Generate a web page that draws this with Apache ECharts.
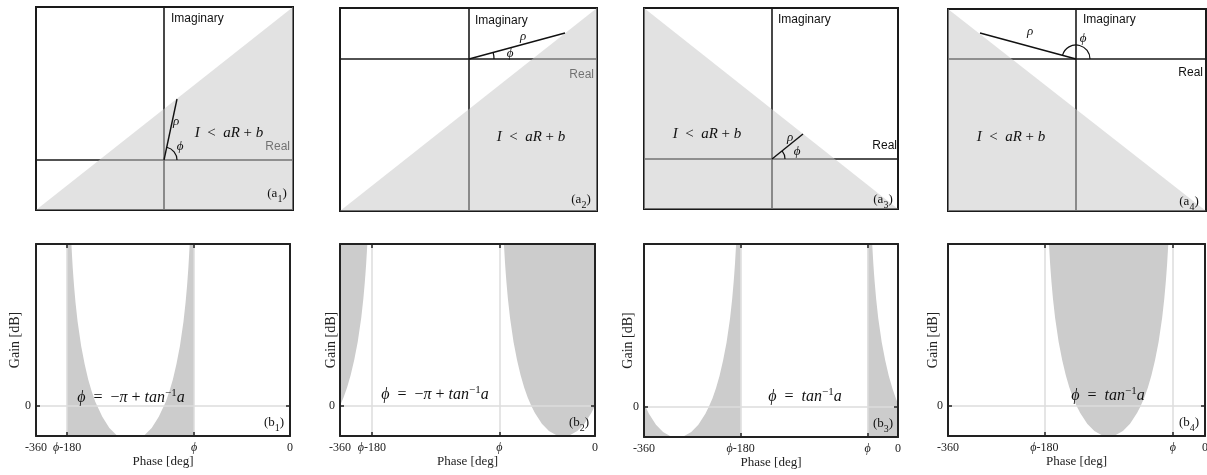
<!DOCTYPE html>
<html>
<head>
<meta charset="utf-8">
<script src="https://cdn.jsdelivr.net/npm/echarts@6/dist/echarts.min.js"></script>
<style>
html, body { margin: 0; padding: 0; background: #fff; }
#main { width: 1207px; height: 475px; }
</style>
</head>
<body>
<div id="main"></div>
<script>
// ---------- top row: complex plane, half plane I < aR + b ----------
var planeReal = [[-128, 129], [-129, 128], [-128, 126], [-128, 130]];
var planeImag = [[-50, 153], [-152, 51], [-50, 151], [-152, 50]];
// boundary line I = aR + b, end points on the frame
var edgeA1 = [[-128, -50], [129, 153]];
var edgeA2 = [[-129, -152], [128, 51]];
var edgeA3 = [[-128, 151], [126, -50]];
var edgeA4 = [[-128, 50], [130, -152]];
// rho vector and phi arc [cx, cy, r, fromDeg, toDeg]
var rhoA1 = [[0, 0], [13, 61]];
var rhoA2 = [[0, 0], [96, 26]];
var rhoA3 = [[0, 0], [31, 25]];
var rhoA4 = [[0, 0], [-96, 26]];
var arcA1 = [[0, 0, 13, 0, 78]];
var arcA2 = [[0, 0, 25, 0, 15]];
var arcA3 = [[0, 0, 13, 0, 39]];
var arcA4 = [[0, 0, 14, 0, 165]];

// ---------- bottom row: gain / phase ----------
var gainRange = [-3, 16];
var gainTicks = [0];
var phaseTickText = ['-360', '{i|ϕ}-180', '{i|ϕ}', '0'];
var phaseTicksB1 = [-360, -316, -136, 0];
var phaseTicksB2 = [-360, -315, -135, 0];
var phaseTicksB3 = [-360, -223, -43, 0];
var phaseTicksB4 = [-360, -225, -45, 0];

// b1: shaded below the boundary inside the band
var bandB1 = [[-316, 16], [-309.8, 16], [-309, 14.9], [-308, 13.7], [-307, 12.7], [-306, 11.8], [-304, 10.2],
  [-301, 8.3], [-296, 5.9], [-291, 4.1], [-286, 2.6], [-281, 1.4], [-276, 0.4], [-266, -1.1], [-256, -2.2],
  [-246, -2.9], [-236, -3.3], [-226, -3.4], [-216, -3.3], [-206, -2.9], [-196, -2.2], [-186, -1.1], [-176, 0.4],
  [-171, 1.4], [-166, 2.6], [-161, 4.1], [-156, 5.9], [-151, 8.3], [-148, 10.2], [-146, 11.8], [-145, 12.7],
  [-144, 13.7], [-143, 14.9], [-142.2, 16], [-136, 16]];
// b2: shaded above the boundary, outside the band
var leftB2 = [[-360, 0.0], [-355, 0.8], [-350, 1.8], [-345, 3.0], [-340, 4.5], [-335, 6.3], [-330, 8.7],
  [-327, 10.6], [-325, 12.2], [-324, 13.1], [-323, 14.1], [-322, 15.3], [-321.4, 16], [-315, 16]];
var rightB2 = [[-135, 16], [-128.6, 16], [-128, 15.3], [-127, 14.1], [-126, 13.1], [-125, 12.2], [-123, 10.6],
  [-120, 8.7], [-115, 6.3], [-110, 4.5], [-105, 3.0], [-100, 1.8], [-95, 0.8], [-90, 0.0], [-85, -0.7],
  [-75, -1.8], [-65, -2.5], [-55, -2.9], [-45, -3.0], [-35, -2.9], [-25, -2.5], [-15, -1.8], [-5, -0.7], [0, 0.0]];
// b3: shaded below the boundary, outside the band
var leftB3 = [[-360, 0.3], [-358, 0.0], [-353, -0.7], [-343, -1.8], [-333, -2.5], [-323, -2.9], [-313, -3.0],
  [-303, -2.9], [-293, -2.5], [-283, -1.8], [-273, -0.7], [-268, 0.0], [-263, 0.8], [-258, 1.8], [-253, 3.0],
  [-248, 4.5], [-243, 6.3], [-238, 8.7], [-235, 10.6], [-233, 12.2], [-232, 13.1], [-231, 14.1], [-230, 15.3],
  [-229.4, 16], [-223, 16]];
var rightB3 = [[-43, 16], [-36.6, 16], [-36, 15.3], [-35, 14.1], [-34, 13.1], [-33, 12.2], [-31, 10.6],
  [-28, 8.7], [-23, 6.3], [-18, 4.5], [-13, 3.0], [-8, 1.8], [-3, 0.8], [0, 0.3]];
// b4: shaded above the boundary inside the band
var bandB4 = [[-225, 16], [-218.6, 16], [-218, 15.3], [-217, 14.1], [-216, 13.1], [-215, 12.2], [-213, 10.6],
  [-210, 8.7], [-205, 6.3], [-200, 4.5], [-195, 3.0], [-190, 1.8], [-185, 0.8], [-180, 0.0], [-175, -0.7],
  [-165, -1.8], [-155, -2.5], [-145, -2.9], [-135, -3.0], [-125, -2.9], [-115, -2.5], [-105, -1.8], [-95, -0.7],
  [-90, 0.0], [-85, 0.8], [-80, 1.8], [-75, 3.0], [-70, 4.5], [-65, 6.3], [-60, 8.7], [-57, 10.6], [-55, 12.2],
  [-54, 13.1], [-53, 14.1], [-52, 15.3], [-51.4, 16], [-45, 16]];

var serif = "'Liberation Serif', 'Times New Roman', serif";
var sans = "'Liberation Sans', Arial, sans-serif";

var topPanels = [
  {box: [36, 7, 257, 203], edge: edgeA1, rho: rhoA1, arc: arcA1},
  {box: [340, 8, 257, 203], edge: edgeA2, rho: rhoA2, arc: arcA2},
  {box: [644, 8, 254, 201], edge: edgeA3, rho: rhoA3, arc: arcA3},
  {box: [948, 9, 258, 202], edge: edgeA4, rho: rhoA4, arc: arcA4}
];
var bottomPanels = [
  {box: [36, 244, 254, 192], ticks: phaseTicksB1, gap: 14, areas: [[bandB1, 'start']]},
  {box: [340, 244, 255, 192], ticks: phaseTicksB2, gap: 2, areas: [[leftB2, 'end'], [rightB2, 'end']]},
  {box: [644, 244, 254, 193], ticks: phaseTicksB3, gap: 9, areas: [[leftB3, 'start'], [rightB3, 'start']]},
  {box: [948, 244, 257, 192], ticks: phaseTicksB4, gap: 8, areas: [[bandB4, 'end']]}
];

var grids = [], xAxes = [], yAxes = [], series = [];

topPanels.forEach(function (p, i) {
  grids.push({left: p.box[0], top: p.box[1], width: p.box[2], height: p.box[3], show: true,
    borderColor: '#1a1a1a', borderWidth: 2, outerBoundsMode: 'none'});
  var plain = {
    gridIndex: i, type: 'value',
    axisLine: {onZero: true, lineStyle: {color: '#1a1a1a', width: 1.6}},
    axisTick: {show: false}, axisLabel: {show: false}, splitLine: {show: false}
  };
  xAxes.push(Object.assign({}, plain, {min: planeReal[i][0], max: planeReal[i][1]}));
  yAxes.push(Object.assign({}, plain, {min: planeImag[i][0], max: planeImag[i][1]}));
  series.push({
    type: 'line', xAxisIndex: i, yAxisIndex: i, data: p.edge, symbol: 'none', silent: true, z: 2,
    lineStyle: {width: 0}, areaStyle: {color: 'rgba(200,200,200,0.52)', opacity: 1, origin: 'start'}
  });
  series.push({
    type: 'line', xAxisIndex: i, yAxisIndex: i, data: p.rho, symbol: 'none', silent: true, z: 4,
    lineStyle: {color: '#111', width: 1.4}
  });
  series.push({
    type: 'custom', xAxisIndex: i, yAxisIndex: i, data: p.arc, silent: true, z: 4, clip: false,
    renderItem: function (params, api) {
      var c = api.coord([api.value(0), api.value(1)]);
      var r = api.size([api.value(2), 0])[0];
      return {
        type: 'arc',
        shape: {cx: c[0], cy: c[1], r: r, startAngle: -api.value(4) * Math.PI / 180,
          endAngle: -api.value(3) * Math.PI / 180, clockwise: true},
        style: {stroke: '#111', fill: 'none', lineWidth: 1.2}
      };
    }
  });
});

var tickRich = {i: {fontFamily: serif, fontStyle: 'italic', fontSize: 12, color: '#222'}};

bottomPanels.forEach(function (p, k) {
  var g = 4 + k;
  grids.push({left: p.box[0], top: p.box[1], width: p.box[2], height: p.box[3], outerBoundsMode: 'none'});
  var ticks = p.ticks;
  var axisBase = {
    gridIndex: g, type: 'value', z: 5,
    axisLine: {onZero: false, lineStyle: {color: '#222', width: 2}},
    splitLine: {show: false}
  };
  var xi = xAxes.length, yi = yAxes.length;
  xAxes.push(Object.assign({}, axisBase, {
    min: -360, max: 0, position: 'bottom',
    axisTick: {inside: true, length: 4, customValues: ticks, lineStyle: {color: '#222', width: 1.5}},
    axisLabel: {customValues: ticks, margin: 6, color: '#222', fontFamily: serif, fontSize: 12, rich: tickRich,
      formatter: function (v) { return phaseTickText[ticks.indexOf(v)]; }},
    name: 'Phase [deg]', nameLocation: 'middle', nameGap: 19, nameMoveOverlap: false,
    nameTextStyle: {fontFamily: serif, fontSize: 13, color: '#222'}
  }));
  xAxes.push(Object.assign({}, axisBase, {
    min: -360, max: 0, position: 'top',
    axisTick: {inside: true, length: 4, customValues: ticks, lineStyle: {color: '#222', width: 1.5}},
    axisLabel: {show: false}
  }));
  yAxes.push(Object.assign({}, axisBase, {
    min: gainRange[0], max: gainRange[1], position: 'left',
    axisTick: {inside: true, length: 4, customValues: gainTicks, lineStyle: {color: '#222', width: 1.5}},
    axisLabel: {customValues: gainTicks, margin: 5, color: '#222', fontFamily: serif, fontSize: 12},
    name: 'Gain [dB]', nameLocation: 'middle', nameGap: p.gap, nameMoveOverlap: false,
    nameTextStyle: {fontFamily: serif, fontSize: 14, color: '#222'}
  }));
  yAxes.push(Object.assign({}, axisBase, {
    min: gainRange[0], max: gainRange[1], position: 'right',
    axisTick: {inside: true, length: 4, customValues: gainTicks, lineStyle: {color: '#222', width: 1.5}},
    axisLabel: {show: false}
  }));
  p.areas.forEach(function (a) {
    series.push({
      type: 'line', xAxisIndex: xi, yAxisIndex: yi, data: a[0], symbol: 'none', silent: true, z: 2,
      lineStyle: {width: 0}, areaStyle: {color: '#cccccc', opacity: 1, origin: a[1]}
    });
  });
  series.push({
    type: 'line', xAxisIndex: xi, yAxisIndex: yi, data: [], silent: true, z: 3,
    markLine: {
      silent: true, symbol: 'none', animation: false, label: {show: false},
      lineStyle: {color: '#dcdcdc', width: 1.5, type: 'solid'},
      data: [{xAxis: ticks[1]}, {xAxis: ticks[2]}, {yAxis: gainTicks[0]}]
    }
  });
});

// ---------- text ----------
function txt(x, y, text, font, align, z, rich) {
  return {type: 'text', x: x, y: y, z: z, silent: true,
    style: {text: text, font: font, fill: '#111', align: align, verticalAlign: 'middle', lineHeight: 20, rich: rich || {}}};
}
var mathRich = {
  i: {fontFamily: serif, fontStyle: 'italic', fontSize: 16, color: '#111', lineHeight: 20},
  p: {fontFamily: serif, fontSize: 11, color: '#111', lineHeight: 9, verticalAlign: 'top'}
};
var ineqRich = {i: {fontFamily: serif, fontStyle: 'italic', fontSize: 15, color: '#111', lineHeight: 20}};
var tagRich = {s: {fontFamily: serif, fontSize: 10, color: '#111', lineHeight: 8, verticalAlign: 'bottom'}};
var it13 = 'italic 13px ' + serif;
var ineq = '{i|I}  <  {i|aR} + {i|b}';
var mathB12 = '{i|ϕ}  =  −{i|π} + {i|tan}{p|−1}{i|a}';
var mathB34 = '{i|ϕ}  =  {i|tan}{p|−1}{i|a}';
var graphics = [
  txt(171, 19, 'Imaginary', '12px ' + sans, 'left', 1), txt(475, 21, 'Imaginary', '12px ' + sans, 'left', 1),
  txt(778, 20, 'Imaginary', '12px ' + sans, 'left', 1), txt(1083, 20, 'Imaginary', '12px ' + sans, 'left', 1),
  txt(290, 147, 'Real', '12px ' + sans, 'right', 1), txt(594, 75, 'Real', '12px ' + sans, 'right', 1),
  txt(897, 146, 'Real', '12px ' + sans, 'right', 1), txt(1203, 73, 'Real', '12px ' + sans, 'right', 1),
  txt(229, 133, ineq, '15px ' + serif, 'center', 10, ineqRich),
  txt(531, 137, ineq, '15px ' + serif, 'center', 10, ineqRich),
  txt(707, 134, ineq, '15px ' + serif, 'center', 10, ineqRich),
  txt(1011, 137, ineq, '15px ' + serif, 'center', 10, ineqRich),
  txt(176, 122, 'ρ', it13, 'center', 10), txt(180, 147, 'ϕ', it13, 'center', 10),
  txt(523, 37, 'ρ', it13, 'center', 10), txt(510, 54, 'ϕ', it13, 'center', 10),
  txt(790, 138, 'ρ', it13, 'center', 10), txt(797, 152, 'ϕ', it13, 'center', 10),
  txt(1030, 32, 'ρ', it13, 'center', 10), txt(1083, 39, 'ϕ', it13, 'center', 10),
  txt(277, 194, '(a{s|1})', '13px ' + serif, 'center', 10, tagRich),
  txt(581, 200, '(a{s|2})', '13px ' + serif, 'center', 10, tagRich),
  txt(883, 200, '(a{s|3})', '13px ' + serif, 'center', 10, tagRich),
  txt(1189, 202, '(a{s|4})', '13px ' + serif, 'center', 10, tagRich),
  txt(274, 423, '(b{s|1})', '13px ' + serif, 'center', 10, tagRich),
  txt(579, 423, '(b{s|2})', '13px ' + serif, 'center', 10, tagRich),
  txt(883, 424, '(b{s|3})', '13px ' + serif, 'center', 10, tagRich),
  txt(1189, 423, '(b{s|4})', '13px ' + serif, 'center', 10, tagRich),
  txt(131, 398, mathB12, '16px ' + serif, 'center', 10, mathRich),
  txt(435, 395, mathB12, '16px ' + serif, 'center', 10, mathRich),
  txt(805, 397, mathB34, '16px ' + serif, 'center', 10, mathRich),
  txt(1108, 396, mathB34, '16px ' + serif, 'center', 10, mathRich)
];

var chart = echarts.init(document.getElementById('main'));
chart.setOption({
  backgroundColor: '#fff',
  animation: false,
  grid: grids,
  xAxis: xAxes,
  yAxis: yAxes,
  series: series,
  graphic: graphics
});
</script>
</body>
</html>
